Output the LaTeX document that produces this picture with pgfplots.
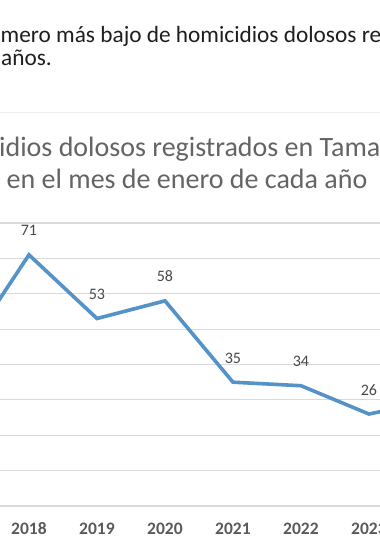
\documentclass[border=0pt]{standalone}
\usepackage{fontspec}
\setmainfont{Carlito}
\usepackage{pgfplots}
\pgfplotsset{compat=1.18}
\definecolor{lineblue}{HTML}{5592C8}
\definecolor{gridgray}{HTML}{D9D9D9}
\definecolor{headblack}{HTML}{1E1E1E}
\definecolor{titlegray}{HTML}{646464}
\definecolor{labelgray}{HTML}{5A5A5A}
\definecolor{datagray}{HTML}{484848}
\definecolor{framegray}{HTML}{EDEDED}
\begin{document}
\begin{tikzpicture}[x=1pt,y=1pt]
\path[use as bounding box] (0,0) rectangle (380,550);
\clip (0,0) rectangle (380,550);
\fill[white] (0,0) rectangle (380,550);
\node[anchor=base west, inner sep=0, text=headblack, font=\fontsize{23.3}{23.3}\selectfont] at (0.5,507) {mero más bajo de homicidios dolosos re};
\node[anchor=base west, inner sep=0, text=headblack, font=\fontsize{23.3}{23.3}\selectfont] at (1,484) {años.};
\draw[framegray, line width=1pt] (0,437) -- (380,437);
\node[anchor=base west, inner sep=0, text=titlegray, font=\fontsize{28}{28}\selectfont] at (-1,393) {idios dolosos registrados en Tama};
\node[anchor=base, inner sep=0, text=titlegray, font=\fontsize{28}{28}\selectfont] at (187,361) {en el mes de enero de cada año};
\begin{axis}[
  at={(0pt,44pt)}, anchor=south west,
  scale only axis, width=380pt, height=283pt,
  xmin=2017.574, xmax=2023.162, ymin=0, ymax=80,
  clip=false,
  axis line style={draw=none},
  major tick length=0pt,
  ytick={0,10,...,80}, yticklabels={},
  ymajorgrids, grid style={gridgray, line width=1.2pt},
  xtick={2018,2019,2020,2021,2022,2023},
  /pgf/number format/1000 sep={},
  /pgf/number format/assume math mode=true,
  xticklabel style={anchor=base, yshift=-28pt, inner sep=0pt, text=labelgray, font=\bfseries\fontsize{17.5}{18}\selectfont},
  nodes near coords,
  every node near coord/.append style={anchor=base, yshift=19pt, inner sep=0pt, text=datagray, font=\fontsize{16}{16}\selectfont},
]
\addplot[lineblue, line width=3.6pt, mark=none] coordinates {
 (2017,42) (2018,71) (2019,53) (2020,58) (2021,35) (2022,34) (2023,26) (2024,30)
};
\end{axis}
\end{tikzpicture}
\end{document}
